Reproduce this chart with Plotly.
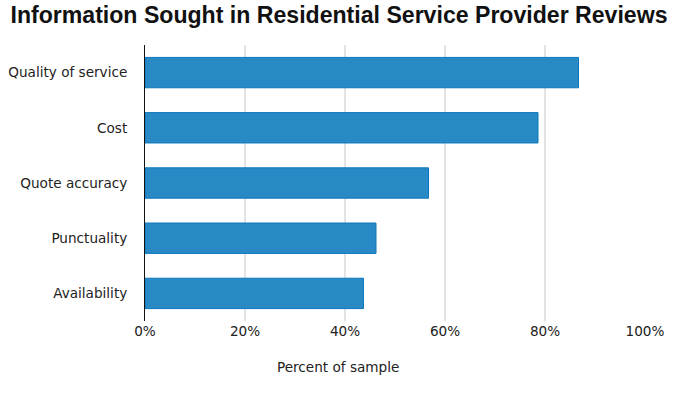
import plotly.graph_objects as go

categories = ["Quality of service", "Cost", "Quote accuracy", "Punctuality", "Availability"]
values = [86.7, 78.6, 56.7, 46.2, 43.7]
tick_vals = [0, 20, 40, 60, 80, 100]
tick_text = ["0%", "20%", "40%", "60%", "80%", "100%"]

fig = go.Figure(go.Bar(
    x=values, y=categories, orientation="h",
    marker=dict(color="#2889c5", line=dict(color="#0b77bd", width=1)),
))

fig.update_layout(
    width=675, height=399,
    margin=dict(l=145, r=30, t=45, b=78, autoexpand=False),
    paper_bgcolor="white", plot_bgcolor="white",
    bargap=0.45,
    showlegend=False,
    font=dict(family="DejaVu Sans", size=13.6, color="#222"),
    title=dict(text="<b>Information Sought in Residential Service Provider Reviews</b>",
               x=(339 / 675), xanchor="center", y=1 - 15 / 399, yanchor="middle",
               font=dict(family="Liberation Sans, Arial", size=23.1, color="#111")),
    xaxis=dict(range=[0, 100], tickvals=tick_vals, ticktext=tick_text,
               showgrid=True, gridcolor="#e3e3e3", gridwidth=1.5,
               zeroline=False, showline=False, ticks="", automargin=False,
               ticklabeloverflow="allow",
               tickfont=dict(size=13.6, color="#222")),
    yaxis=dict(categoryorder="array", categoryarray=categories[::-1],
               showline=True, linecolor="#111", linewidth=1, automargin=False,
               showgrid=False, ticks="", ticklabelstandoff=14,
               tickfont=dict(size=13.6, color="#222")),
    annotations=[dict(text="Percent of sample", xref="paper", yref="paper",
                      x=(338 - 145) / 500, y=-(367 - 321) / 276, xanchor="center", yanchor="middle",
                      showarrow=False, font=dict(size=13.6, color="#222"))],
)

fig.write_html("out.html", config={"displayModeBar": False},
               post_script="document.body.style.margin='0';document.body.style.overflow='hidden';")
